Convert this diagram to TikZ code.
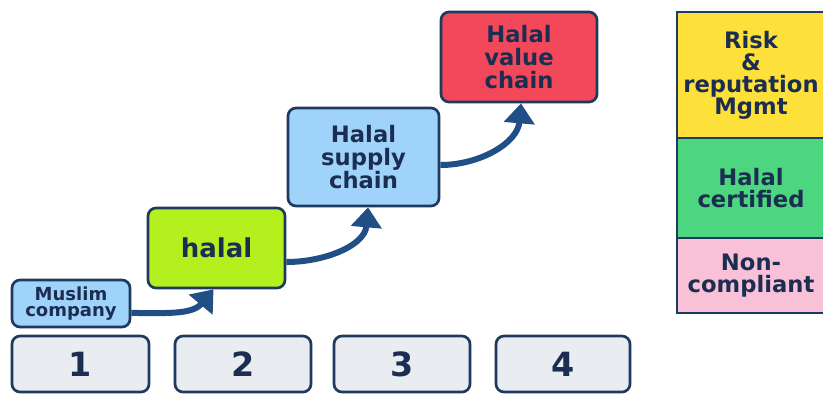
\documentclass[tikz,border=0pt]{standalone}
\usepackage{fontspec}
\setmainfont{DejaVu Sans}
\usetikzlibrary{arrows.meta}
\definecolor{txt}{HTML}{1B2D50}
\definecolor{bordc}{HTML}{1F3A5F}
\definecolor{arrc}{HTML}{1F4F85}
\definecolor{lblue}{HTML}{9FD3FA}
\definecolor{lime}{HTML}{B4F01E}
\definecolor{redc}{HTML}{F3475A}
\definecolor{yel}{HTML}{FDE03A}
\definecolor{grn}{HTML}{4CD67F}
\definecolor{pnk}{HTML}{F8C1D7}
\definecolor{gry}{HTML}{E9EDF2}
\begin{document}
\begin{tikzpicture}[x=0.75pt,y=-0.75pt,
  box/.style={draw=bordc, line width=2pt, rounded corners=6pt, inner sep=0pt, align=center, text=txt},
  panel/.style={draw=bordc, line width=2.2pt, inner sep=0pt, align=center, text=txt, minimum width=111pt,
     font=\fontsize{17pt}{16.5pt}\selectfont\bfseries},
  numbox/.style={box, fill=gry, minimum height=42pt, font=\fontsize{25pt}{25pt}\selectfont\bfseries},
  flow/.style={draw=arrc, line width=4.5pt, -{Triangle[width=22.5pt,length=15pt]}}]
\useasboundingbox (0,0) rectangle (823,394);
\fill[white] (0,0) rectangle (823,394);

\node[box, fill=lblue, minimum width=88.5pt, minimum height=35.25pt,
  font=\fontsize{13.5pt}{12pt}\selectfont\bfseries] (mc) at (71,303.5) {Muslim\\company};
\node[box, fill=lime, minimum width=102.75pt, minimum height=60pt,
  font=\fontsize{19.5pt}{20pt}\selectfont\bfseries] (halal) at (216.5,248) {halal};
\node[box, fill=lblue, minimum width=113.25pt, minimum height=73.5pt,
  font=\fontsize{17pt}{17pt}\selectfont\bfseries] (supply) at (363.5,157) {Halal\\supply\\chain};
\node[box, fill=redc, minimum width=117pt, minimum height=67.5pt,
  font=\fontsize{17pt}{17pt}\selectfont\bfseries] (value) at (519,57) {Halal\\value\\chain};

\draw[flow] ([yshift=-7.1pt]mc.east) to[out=0,in=-130] ([xshift=-2.25pt]halal.south);
\draw[flow] ([yshift=-10.5pt]halal.east) to[out=0,in=-95] ([xshift=3.4pt]supply.south);
\draw[flow] ([yshift=-6pt]supply.east) to[out=0,in=-95] ([xshift=1.5pt]value.south);

\node[numbox, minimum width=102.75pt] (n1) at (80.5,364) {1};
\node[numbox, minimum width=102pt] (n2) at (243,364) {2};
\node[numbox, minimum width=102pt] (n3) at (402,364) {3};
\node[numbox, minimum width=100.5pt] (n4) at (563,364) {4};

\node[panel, fill=yel, minimum height=94.5pt] (risk) at (751,75) {Risk\\\&\\reputation\\Mgmt};
\node[panel, fill=grn, minimum height=75pt] (cert) at (751,188) {Halal\\certified};
\node[panel, fill=pnk, minimum height=56.25pt] (nonc) at (751,275.5) {Non-\\compliant};
\end{tikzpicture}
\end{document}
